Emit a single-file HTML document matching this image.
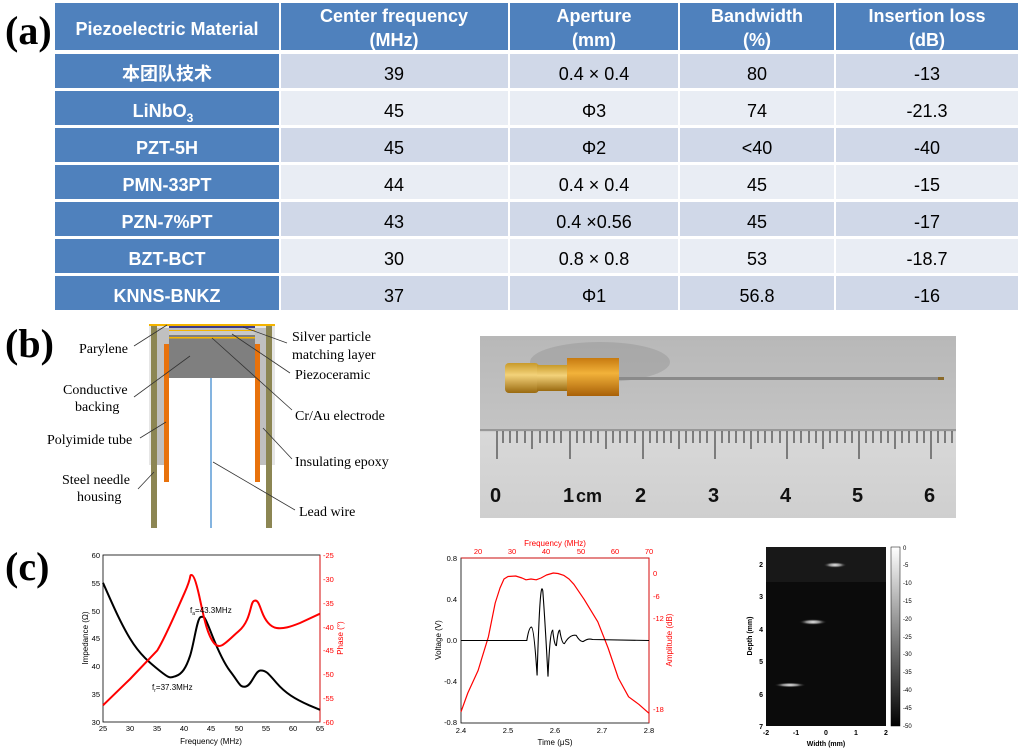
<!DOCTYPE html>
<html><head><meta charset="utf-8"><style>
body{margin:0;background:#fff;width:1026px;height:753px;overflow:hidden;font-family:"Liberation Sans","Noto Sans CJK SC",sans-serif}
svg{position:absolute;left:0;top:0}
</style></head><body>
<svg width="1026" height="753" viewBox="0 0 1026 753" font-family="Liberation Sans, Noto Sans CJK SC, sans-serif">
<defs>
<linearGradient id="cb" x1="0" y1="0" x2="0" y2="1"><stop offset="0" stop-color="#fff"/><stop offset="1" stop-color="#000"/></linearGradient>
<radialGradient id="bl"><stop offset="0" stop-color="#eee"/><stop offset="0.5" stop-color="#888"/><stop offset="1" stop-color="#111" stop-opacity="0"/></radialGradient>
<linearGradient id="gold" x1="0" y1="0" x2="0" y2="1"><stop offset="0" stop-color="#c89a2a"/><stop offset="0.4" stop-color="#f3d27a"/><stop offset="1" stop-color="#9a6a10"/></linearGradient>
<linearGradient id="amb" x1="0" y1="0" x2="0" y2="1"><stop offset="0" stop-color="#c77a10"/><stop offset="0.4" stop-color="#f2b23a"/><stop offset="1" stop-color="#a86008"/></linearGradient>
<linearGradient id="ph" x1="0" y1="0" x2="0" y2="1"><stop offset="0" stop-color="#b8b8b8"/><stop offset="0.52" stop-color="#c4c4c4"/><stop offset="0.53" stop-color="#d8d8d8"/><stop offset="1" stop-color="#cfcfcf"/></linearGradient>
</defs>
<text x="5" y="44" font-family="Liberation Serif, serif" font-weight="bold" font-size="40">(a)</text>
<g font-size="18" text-anchor="middle">
<rect x="55" y="3" width="224" height="47" fill="#4f81bd"/>
<rect x="281" y="3" width="227" height="47" fill="#4f81bd"/>
<rect x="510" y="3" width="168" height="47" fill="#4f81bd"/>
<rect x="680" y="3" width="154" height="47" fill="#4f81bd"/>
<rect x="836" y="3" width="182" height="47" fill="#4f81bd"/>
<g fill="#fff" font-weight="bold">
<text x="167" y="35">Piezoelectric Material</text>
<text x="394" y="22">Center frequency</text><text x="394" y="46">(MHz)</text>
<text x="594" y="22">Aperture</text><text x="594" y="46">(mm)</text>
<text x="757" y="22">Bandwidth</text><text x="757" y="46">(%)</text>
<text x="927" y="22">Insertion loss</text><text x="927" y="46">(dB)</text>
</g>
</g>
<g font-size="18" text-anchor="middle">
<rect x="55" y="54" width="224" height="34" fill="#4f81bd"/><rect x="281" y="54" width="737" height="34" fill="#d0d8e8"/>
<rect x="55" y="91" width="224" height="34" fill="#4f81bd"/><rect x="281" y="91" width="737" height="34" fill="#e9edf4"/>
<rect x="55" y="128" width="224" height="34" fill="#4f81bd"/><rect x="281" y="128" width="737" height="34" fill="#d0d8e8"/>
<rect x="55" y="165" width="224" height="34" fill="#4f81bd"/><rect x="281" y="165" width="737" height="34" fill="#e9edf4"/>
<rect x="55" y="202" width="224" height="34" fill="#4f81bd"/><rect x="281" y="202" width="737" height="34" fill="#d0d8e8"/>
<rect x="55" y="239" width="224" height="34" fill="#4f81bd"/><rect x="281" y="239" width="737" height="34" fill="#e9edf4"/>
<rect x="55" y="276" width="224" height="34" fill="#4f81bd"/><rect x="281" y="276" width="737" height="34" fill="#d0d8e8"/>
<g stroke="#fff" stroke-width="2"><line x1="509" y1="54" x2="509" y2="310"/><line x1="679" y1="54" x2="679" y2="310"/><line x1="835" y1="54" x2="835" y2="310"/></g>
<g fill="#fff" font-weight="bold">
<text x="167" y="80">本团队技术</text>
<text x="163" y="117">LiNbO<tspan font-size="12" dy="5">3</tspan></text>
<text x="167" y="154">PZT-5H</text>
<text x="167" y="191">PMN-33PT</text>
<text x="167" y="228">PZN-7%PT</text>
<text x="167" y="265">BZT-BCT</text>
<text x="167" y="302">KNNS-BNKZ</text>
</g>
<g fill="#000">
<text x="394" y="80">39</text><text x="594" y="80">0.4 × 0.4</text><text x="757" y="80">80</text><text x="927" y="80">-13</text>
<text x="394" y="117">45</text><text x="594" y="117">Φ3</text><text x="757" y="117">74</text><text x="927" y="117">-21.3</text>
<text x="394" y="154">45</text><text x="594" y="154">Φ2</text><text x="757" y="154">&lt;40</text><text x="927" y="154">-40</text>
<text x="394" y="191">44</text><text x="594" y="191">0.4 × 0.4</text><text x="757" y="191">45</text><text x="927" y="191">-15</text>
<text x="394" y="228">43</text><text x="594" y="228">0.4 ×0.56</text><text x="757" y="228">45</text><text x="927" y="228">-17</text>
<text x="394" y="265">30</text><text x="594" y="265">0.8 × 0.8</text><text x="757" y="265">53</text><text x="927" y="265">-18.7</text>
<text x="394" y="302">37</text><text x="594" y="302">Φ1</text><text x="757" y="302">56.8</text><text x="927" y="302">-16</text>
</g>
</g>

<text x="5" y="357" font-family="Liberation Serif, serif" font-weight="bold" font-size="40">(b)</text>
<rect x="149" y="325" width="126" height="140" fill="#e6e6e6"/>
<rect x="156" y="328" width="112" height="137" fill="#c0c0c0"/>
<rect x="169" y="335" width="86" height="43" fill="#7f7f7f"/>
<rect x="169" y="330" width="86" height="5" fill="#c8c8c8"/>
<rect x="169" y="326" width="86" height="2" fill="#3b3b8a"/>
<rect x="149" y="324" width="126" height="2" fill="#f4b400"/>
<rect x="169" y="330" width="86" height="1" fill="#f4b400"/>
<rect x="169" y="337" width="86" height="1.5" fill="#f4b400"/>
<rect x="169" y="378" width="86" height="150" fill="#fff"/>
<rect x="151" y="326" width="6" height="202" fill="#8c8653"/>
<rect x="266" y="326" width="6" height="202" fill="#8c8653"/>
<rect x="164" y="344" width="5" height="138" fill="#e8720c"/>
<rect x="255" y="344" width="5" height="138" fill="#e8720c"/>
<line x1="211" y1="378" x2="211" y2="528" stroke="#5b9bd5" stroke-width="1.5"/>
<g stroke="#333" stroke-width="0.8" fill="none">
<line x1="134" y1="346" x2="167" y2="325"/><line x1="134" y1="397" x2="190" y2="356"/>
<line x1="140" y1="438" x2="166" y2="422"/><line x1="138" y1="489" x2="154" y2="472"/>
<line x1="287" y1="343" x2="243" y2="327"/><line x1="290" y1="373" x2="232" y2="334"/>
<line x1="292" y1="410" x2="212" y2="338"/><line x1="292" y1="459" x2="263" y2="428"/>
<line x1="295" y1="510" x2="213" y2="462"/>
</g>
<g font-family="Liberation Serif, serif" font-size="14" fill="#000">
<text x="79" y="353">Parylene</text>
<text x="63" y="394">Conductive</text><text x="75" y="411">backing</text>
<text x="47" y="444">Polyimide tube</text>
<text x="62" y="484">Steel needle</text><text x="77" y="501">housing</text>
<text x="292" y="341">Silver particle</text><text x="292" y="359">matching layer</text>
<text x="295" y="379">Piezoceramic</text>
<text x="295" y="420">Cr/Au electrode</text>
<text x="295" y="466">Insulating epoxy</text>
<text x="299" y="516">Lead wire</text>
</g>

<rect x="480" y="336" width="476" height="182" fill="url(#ph)"/>
<line x1="480" y1="430" x2="956" y2="430" stroke="#8a8a8a" stroke-width="1.5"/>
<ellipse cx="600" cy="362" rx="70" ry="20" fill="#8a8a8a" opacity="0.35"/>
<rect x="505" y="363" width="34" height="30" rx="4" fill="url(#gold)"/>
<rect x="537" y="365" width="30" height="26" fill="url(#gold)"/>
<rect x="567" y="358" width="52" height="38" fill="url(#amb)"/>
<rect x="619" y="377" width="325" height="3" fill="#8a8a8a"/>
<rect x="938" y="377" width="6" height="3" fill="#8a6a2a"/>
<g stroke="#222" stroke-width="1">
<path d="M503 431 v12 M510 431 v12 M517 431 v12 M525 431 v12 M532 431 v18 M540 431 v12 M547 431 v12 M554 431 v12 M561 431 v12 M570 431 v28 M577 431 v12 M584 431 v12 M591 431 v12 M598 431 v12 M606 431 v18 M613 431 v12 M620 431 v12 M627 431 v12 M635 431 v12 M643 431 v28 M650 431 v12 M657 431 v12 M664 431 v12 M671 431 v12 M679 431 v18 M686 431 v12 M693 431 v12 M700 431 v12 M707 431 v12 M715 431 v28 M722 431 v12 M729 431 v12 M736 431 v12 M744 431 v12 M751 431 v18 M758 431 v12 M765 431 v12 M772 431 v12 M780 431 v12 M787 431 v28 M794 431 v12 M801 431 v12 M809 431 v12 M816 431 v12 M823 431 v18 M830 431 v12 M837 431 v12 M845 431 v12 M852 431 v12 M859 431 v28 M866 431 v12 M873 431 v12 M881 431 v12 M888 431 v12 M895 431 v18 M902 431 v12 M909 431 v12 M917 431 v12 M924 431 v12 M931 431 v28 M938 431 v12 M945 431 v12 M952 431 v12"/>
<line x1="497" y1="431" x2="497" y2="459"/>
</g>
<g font-size="20" fill="#111" font-weight="bold">
<text x="490" y="502">0</text><text x="563" y="502">1</text><text x="576" y="502" font-size="18">cm</text><text x="635" y="502">2</text><text x="708" y="502">3</text><text x="780" y="502">4</text><text x="852" y="502">5</text><text x="924" y="502">6</text>
</g>

<text x="5" y="580" font-family="Liberation Serif, serif" font-weight="bold" font-size="40">(c)</text>
<g font-size="7.5">
<rect x="103" y="555" width="217" height="167" fill="none" stroke="#000" stroke-width="0.8"/>
<line x1="320" y1="555" x2="320" y2="722" stroke="red" stroke-width="0.8"/>
<path fill="none" stroke="#000" stroke-width="2" d="M103,582.8 C112,603 120,622 130,638.5 S150,663 160,671 S170,678 176,676 S186,668 190,656 S197,618 200.7,617 S205,618 208,625 S220,658 230,671 S240,688 246,686.5 S255,671 260.3,670.5 S268,673 276.6,683 S295,699 309.2,705.3 L320,709.8"/>
<path fill="none" stroke="red" stroke-width="2" d="M103,705.3 L130.1,679 L157.3,650.4 C166,636 176,612 184.4,593.2 S189,575 191.5,575 S197,585 200.7,602.7 S208,636 214.2,643.3 S226,642 238.6,631.3 S250,603 253.8,601 S259,604 262,612 S270,627 276.6,628 S290,627 300,623 L320,613.7"/>
<g text-anchor="end"><text x="100" y="558">60</text><text x="100" y="586">55</text><text x="100" y="614">50</text><text x="100" y="641">45</text><text x="100" y="669">40</text><text x="100" y="697">35</text><text x="100" y="725">30</text></g>
<g fill="red"><text x="323" y="558">-25</text><text x="323" y="582">-30</text><text x="323" y="606">-35</text><text x="323" y="630">-40</text><text x="323" y="653">-45</text><text x="323" y="677">-50</text><text x="323" y="701">-55</text><text x="323" y="725">-60</text></g>
<g text-anchor="middle"><text x="103" y="731">25</text><text x="130" y="731">30</text><text x="157" y="731">35</text><text x="184" y="731">40</text><text x="211" y="731">45</text><text x="239" y="731">50</text><text x="266" y="731">55</text><text x="293" y="731">60</text><text x="320" y="731">65</text></g>
<text x="211" y="744" text-anchor="middle" font-size="8">Frequency (MHz)</text>
<text transform="translate(88,638) rotate(-90)" text-anchor="middle" font-size="8">Impedance (Ω)</text>
<text transform="translate(343,638) rotate(-90)" text-anchor="middle" font-size="8" fill="red">Phase (°)</text>
<text x="190" y="613" font-size="8">f<tspan font-size="5" dy="2">a</tspan><tspan dy="-2">=43.3MHz</tspan></text>
<text x="152" y="690" font-size="8">f<tspan font-size="5" dy="2">r</tspan><tspan dy="-2">=37.3MHz</tspan></text>
</g>
<g font-size="7.5">
<rect x="461" y="558" width="188" height="165" fill="none" stroke="#000" stroke-width="0.8"/>
<line x1="461" y1="558" x2="649" y2="558" stroke="red" stroke-width="0.8"/>
<line x1="649" y1="558" x2="649" y2="723" stroke="red" stroke-width="0.8"/>
<polyline fill="none" stroke="red" stroke-width="1.2" stroke-linejoin="round" points="461,711.8 467.8,693 478.1,670.5 481.5,659.3 488.4,636.8 495.2,603 500,588 504,579 508,576.5 515.7,576 522,578 526,579.8 531,579 536.2,579.8 541,578 546.5,575 553.3,573 558,573.5 563.6,575.3 569,579 573.9,584.3 584.1,599.3 597.8,621.8 608.1,648 618.3,678 628.6,696.8 638.8,704.3 649,713.3"/>
<path fill="none" stroke="#000" stroke-width="1.1" d="M461,640.5 L526.8,640.5 Q529,627 531.5,627.1 Q534,628 537.1,675.5 Q540,575 542.8,591 Q545,620 548,676.6 Q550,630 552.7,630.2 Q554.5,646 556.4,645.6 Q558,630 559.7,630.2 Q562,644 564.4,643.6 Q570,634 576.2,635.4 Q580,642 583.2,641.5 Q588,638 592.6,639.5 L649,640.5"/>
<g text-anchor="end"><text x="457" y="561">0.8</text><text x="457" y="602">0.4</text><text x="457" y="643">0.0</text><text x="457" y="684">-0.4</text><text x="457" y="725">-0.8</text></g>
<g text-anchor="middle"><text x="461" y="733">2.4</text><text x="508" y="733">2.5</text><text x="555" y="733">2.6</text><text x="602" y="733">2.7</text><text x="649" y="733">2.8</text></g>
<g fill="red" text-anchor="middle"><text x="478" y="554">20</text><text x="512" y="554">30</text><text x="546" y="554">40</text><text x="581" y="554">50</text><text x="615" y="554">60</text><text x="649" y="554">70</text></g>
<g fill="red"><text x="653" y="576">0</text><text x="653" y="599">-6</text><text x="653" y="621">-12</text><text x="653" y="712">-18</text></g>
<text x="555" y="546" text-anchor="middle" font-size="8" fill="red">Frequency (MHz)</text>
<text x="555" y="745" text-anchor="middle" font-size="8">Time (μS)</text>
<text transform="translate(441,640) rotate(-90)" text-anchor="middle" font-size="8">Voltage (V)</text>
<text transform="translate(672,640) rotate(-90)" text-anchor="middle" font-size="8" fill="red">Amplitude (dB)</text>
</g>
<g font-size="7">
<rect x="766" y="547" width="120" height="179" fill="#0b0b0b"/>
<rect x="766" y="547" width="120" height="35" fill="#181818"/>
<ellipse cx="835" cy="565" rx="12" ry="3" fill="url(#bl)"/>
<ellipse cx="813" cy="622" rx="14" ry="3" fill="url(#bl)"/>
<ellipse cx="790" cy="685" rx="16" ry="2.5" fill="url(#bl)"/>
<rect x="891" y="547" width="9" height="179" fill="url(#cb)" stroke="#000" stroke-width="0.5"/>
<g text-anchor="end" font-weight="bold"><text x="763" y="567">2</text><text x="763" y="599">3</text><text x="763" y="632">4</text><text x="763" y="664">5</text><text x="763" y="697">6</text><text x="763" y="729">7</text></g>
<g text-anchor="middle" font-weight="bold"><text x="766" y="735">-2</text><text x="796" y="735">-1</text><text x="826" y="735">0</text><text x="856" y="735">1</text><text x="886" y="735">2</text></g>
<g font-size="6"><text x="903" y="550">0</text><text x="903" y="567">-5</text><text x="903" y="585">-10</text><text x="903" y="603">-15</text><text x="903" y="621">-20</text><text x="903" y="639">-25</text><text x="903" y="656">-30</text><text x="903" y="674">-35</text><text x="903" y="692">-40</text><text x="903" y="710">-45</text><text x="903" y="728">-50</text></g>
<text x="826" y="746" text-anchor="middle" font-weight="bold">Width (mm)</text>
<text transform="translate(752,636) rotate(-90)" text-anchor="middle" font-weight="bold">Depth (mm)</text>
</g>
</svg>
</body></html>
